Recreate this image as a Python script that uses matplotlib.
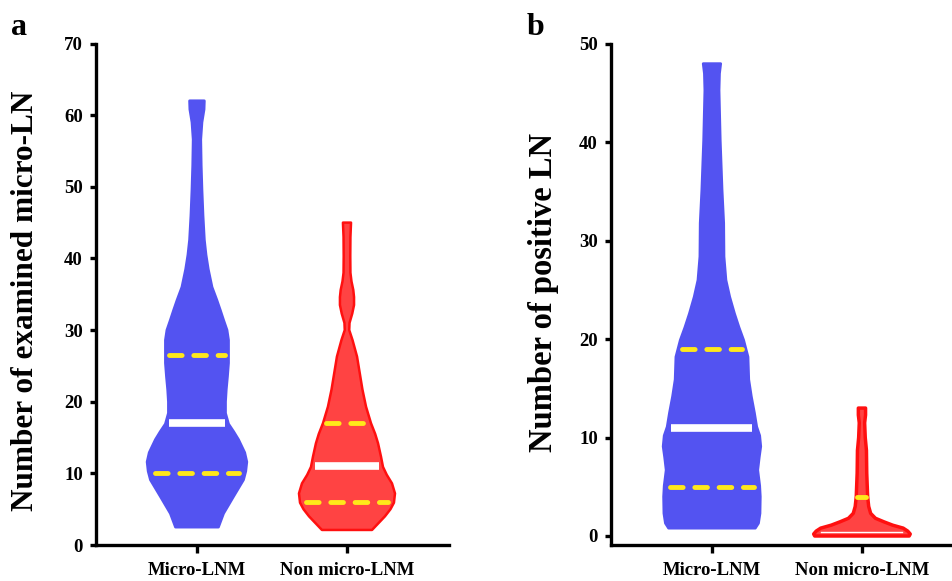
import numpy as np
import matplotlib
matplotlib.use('Agg')
import matplotlib.pyplot as plt

plt.rcParams['font.family'] = 'Liberation Serif'
plt.rcParams['font.weight'] = 'bold'

groups = ['Micro-LNM', 'Non micro-LNM']

# panel a: violin outline, value -> half width (in x units)
a_micro_y = [2.5, 4.4, 6.75, 9.1, 10.3, 11.6, 12.9, 14.7, 15.8, 16.9, 18.4, 20.0, 21.7, 23.5, 25.4, 28.6, 30.0,
             31.4, 32.8, 34.2, 36.0, 38.5, 40.5, 42.6, 46.0, 49.6, 53.0, 56.6, 59.0, 60.8, 62.0]
a_micro_w = [0.143, 0.177, 0.243, 0.31, 0.325, 0.332, 0.318, 0.277, 0.245, 0.21, 0.19, 0.19, 0.195, 0.203, 0.21,
             0.21, 0.2, 0.177, 0.155, 0.132, 0.1, 0.075, 0.06, 0.049, 0.04, 0.033, 0.028, 0.025, 0.033, 0.047, 0.049]
a_non_y = [2.1, 4.0, 5.0, 5.9, 7.2, 8.6, 9.8, 10.9, 12.3, 14.2, 15.5, 17.0, 19.3, 21.7, 24.0, 26.3, 28.6, 30.0,
           31.0, 32.3, 33.5, 34.6, 35.6, 36.8, 38.0, 40.3, 43.0, 45.0]
a_non_w = [0.167, 0.253, 0.29, 0.313, 0.32, 0.3, 0.265, 0.24, 0.227, 0.207, 0.188, 0.16, 0.127, 0.103, 0.085,
           0.067, 0.037, 0.015, 0.017, 0.035, 0.047, 0.047, 0.042, 0.03, 0.023, 0.022, 0.023, 0.027]
a_median = [17, 11]
a_q1 = [10, 6]
a_q3 = [26.5, 17]

# panel b
b_micro_y = [0.8, 1.3, 2.3, 4.0, 5.1, 6.7, 8.0, 9.1, 10.2, 11.1, 12.5, 14.2, 15.9, 18.2, 19.9, 21.2, 22.6, 24.3,
             26.0, 28.4, 31.8, 35.2, 40.2, 45.3, 47.0, 48.0]
b_micro_w = [0.289, 0.31, 0.32, 0.322, 0.318, 0.305, 0.315, 0.325, 0.318, 0.298, 0.283, 0.262, 0.245, 0.24,
             0.211, 0.18, 0.15, 0.118, 0.093, 0.08, 0.078, 0.067, 0.055, 0.047, 0.05, 0.058]
b_non_y = [0.0, 0.2, 0.5, 0.8, 1.1, 1.45, 1.8, 2.3, 3.0, 4.0, 6.4, 8.7, 10.0, 11.5, 12.3, 13.0]
b_non_w = [0.315, 0.322, 0.305, 0.275, 0.205, 0.145, 0.09, 0.058, 0.045, 0.038, 0.032, 0.03, 0.022, 0.018, 0.024, 0.024]
b_median = [11, 0.4]
b_q1 = [5, 0.4]
b_q3 = [19, 4]

blue = '#5353f1'
red_fill = '#ff4343'
red_edge = '#ff1010'
yellow = '#ffe81a'


def violin(ax, pos, ys, ws, fc, ec, lw):
    ys = np.array(ys)
    ws = np.array(ws)
    xs = np.concatenate([pos - ws, (pos + ws)[::-1]])
    yy = np.concatenate([ys, ys[::-1]])
    ax.fill(xs, yy, fc=fc, ec=ec, lw=lw, joinstyle='round', zorder=2)


def quart_lines(ax, pos, ys, ws, med, q1, q3):
    wm = np.interp(med, ys, ws) * 0.9
    ax.plot([pos - wm, pos + wm], [med, med], color='white', lw=5.5, solid_capstyle='butt', zorder=3)
    for q in [q1, q3]:
        if q == med:
            continue
        wq = np.interp(q, ys, ws) * 0.88
        ax.plot([pos - wq, pos + wq], [q, q], color=yellow, lw=3.5, dashes=(2.6, 2.4),
                dash_capstyle='round', zorder=3)


def style(ax, ylim, yticks, xlim):
    ax.set_ylim(*ylim)
    ax.set_xlim(*xlim)
    ax.set_yticks(yticks)
    ax.set_xticks([1, 2])
    ax.set_xticklabels(groups)
    for s in ['top', 'right']:
        ax.spines[s].set_visible(False)
    for s in ['left', 'bottom']:
        ax.spines[s].set_linewidth(2.4)
    ax.tick_params(axis='y', length=4.5, width=2.4, labelsize=13.5, pad=5)
    ax.tick_params(axis='x', length=5.5, width=2.4, labelsize=13.5, pad=6.5)


fig = plt.figure(figsize=(9.53, 5.81), dpi=100)
ax1 = fig.add_axes([96 / 953, 36 / 581, 353 / 953, 501.5 / 581])
ax2 = fig.add_axes([611 / 953, 36 / 581, 342 / 953, 501 / 581])

violin(ax1, 1, a_micro_y, a_micro_w, blue, blue, 2)
violin(ax1, 2, a_non_y, a_non_w, red_fill, red_edge, 1.8)
quart_lines(ax1, 1, a_micro_y, a_micro_w, a_median[0], a_q1[0], a_q3[0])
quart_lines(ax1, 2, a_non_y, a_non_w, a_median[1], a_q1[1], a_q3[1])
style(ax1, (0, 70), range(0, 71, 10), (0.327, 2.68))

violin(ax2, 1, b_micro_y, b_micro_w, blue, blue, 2)
violin(ax2, 2, b_non_y, b_non_w, red_fill, red_edge, 2.5)
quart_lines(ax2, 1, b_micro_y, b_micro_w, b_median[0], b_q1[0], b_q3[0])
# non micro-LNM in b: thin median at the bottom, short upper quartile mark
ax2.plot([2 - 0.27, 2 + 0.27], [b_median[1], b_median[1]], color='white', lw=1.0, zorder=3)
ax2.plot([2 - 0.03, 2 + 0.03], [b_q3[1], b_q3[1]], color=yellow, lw=3.5, solid_capstyle='round', zorder=3)
style(ax2, (-0.915, 50), range(0, 51, 10), (0.327, 2.607))

fig.text(26 / 953, 1 - 301 / 581, 'Number of examined micro-LN', rotation=90,
         ha='center', va='center', fontsize=22.5, fontweight='bold')
fig.text(544 / 953, 1 - 292 / 581, 'Number of positive LN', rotation=90,
         ha='center', va='center', fontsize=23.5, fontweight='bold')
fig.text(11 / 953, 1 - 35 / 581, 'a', fontsize=23, fontweight='bold')
fig.text(527 / 953, 1 - 35 / 581, 'b', fontsize=23, fontweight='bold')

fig.savefig('out.png', dpi=100)
